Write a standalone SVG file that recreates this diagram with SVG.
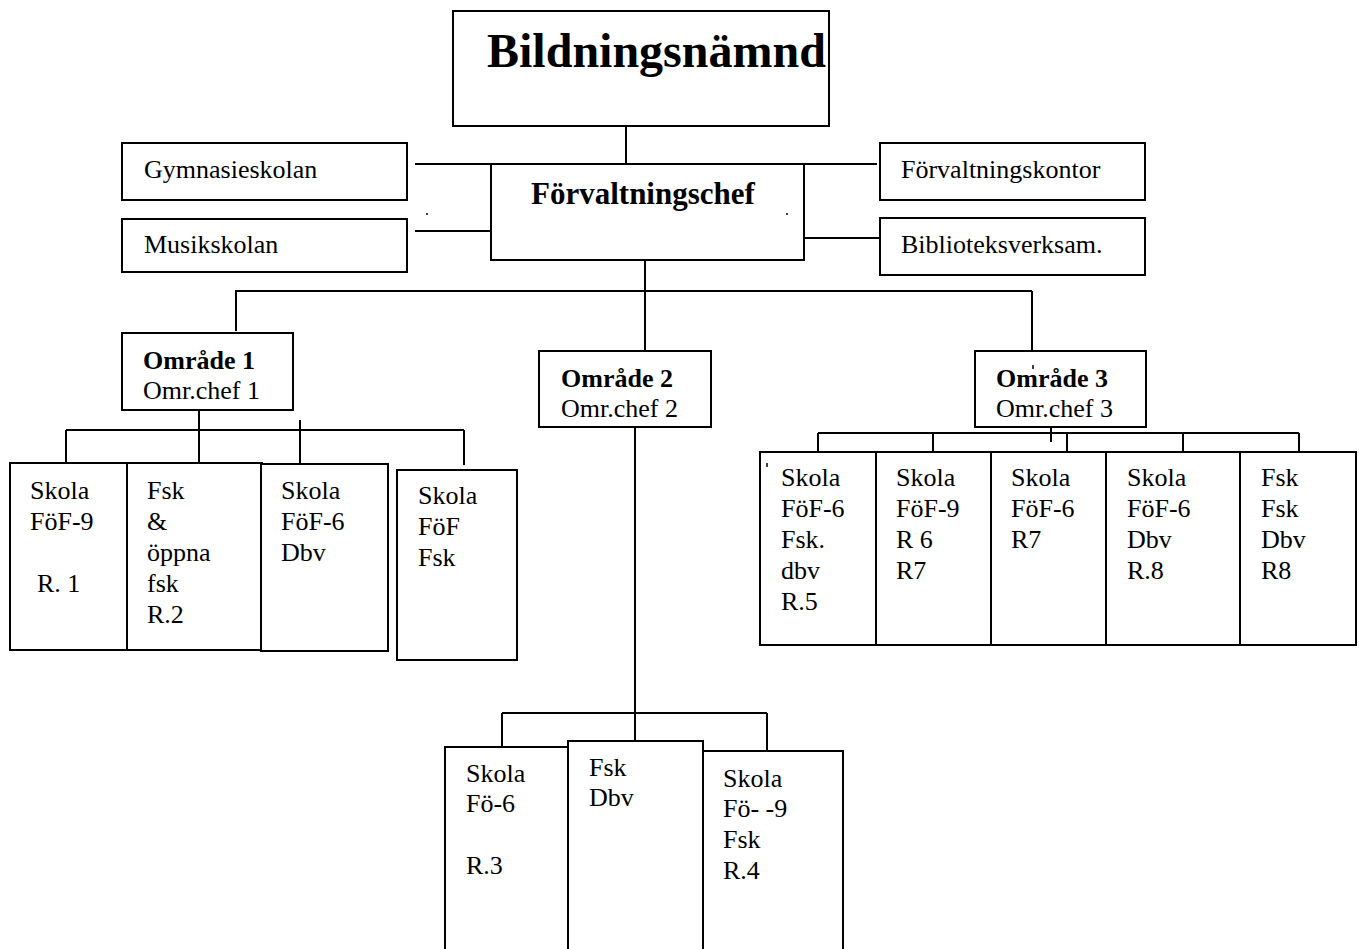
<svg xmlns="http://www.w3.org/2000/svg" width="1359" height="949" viewBox="0 0 1359 949">
<style>
rect.b{fill:#fff;stroke:#000;stroke-width:2}
#connectors line{stroke:#000;stroke-width:2}
text{font-family:"Liberation Serif","Times New Roman",serif;font-size:26px;fill:#000}
.bold{font-weight:bold}
.title{font-size:48px;font-weight:bold}
.chef{font-size:31px;font-weight:bold}
</style>
<rect width="1359" height="949" fill="#fff"/>
<g id="connectors">
<line x1="626" y1="126" x2="626" y2="164"/>
<line x1="415" y1="164" x2="491" y2="164"/>
<line x1="804" y1="164" x2="877" y2="164"/>
<line x1="415" y1="231" x2="491" y2="231"/>
<line x1="804" y1="238" x2="880" y2="238"/>
<line x1="645" y1="260" x2="645" y2="351"/>
<line x1="235" y1="291" x2="1032" y2="291"/>
<line x1="236" y1="291" x2="236" y2="331"/>
<line x1="1032" y1="291" x2="1032" y2="351"/>
<line x1="199" y1="410" x2="199" y2="463"/>
<line x1="66" y1="430" x2="464" y2="430"/>
<line x1="66" y1="430" x2="66" y2="463"/>
<line x1="300" y1="420" x2="300" y2="464"/>
<line x1="464" y1="430" x2="464" y2="465"/>
<line x1="635" y1="427" x2="635" y2="741"/>
<line x1="502" y1="713" x2="767" y2="713"/>
<line x1="502" y1="713" x2="502" y2="747"/>
<line x1="767" y1="713" x2="767" y2="751"/>
<line x1="818" y1="433" x2="1299" y2="433"/>
<line x1="1051" y1="422" x2="1051" y2="442"/>
<line x1="818" y1="433" x2="818" y2="452"/>
<line x1="933" y1="433" x2="933" y2="452"/>
<line x1="1067" y1="433" x2="1067" y2="452"/>
<line x1="1183" y1="433" x2="1183" y2="452"/>
<line x1="1299" y1="433" x2="1299" y2="452"/>
</g>
<g id="bildningsnamnd"><rect class="b" x="453" y="11" width="376" height="115"/><text class="title" x="487" y="67">Bildningsnämnd</text></g>
<g id="forvaltningschef"><rect class="b" x="491" y="164" width="313" height="96"/><text class="chef" x="531" y="204">Förvaltningschef</text></g>
<g id="gymnasieskolan"><rect class="b" x="122" y="143" width="285" height="57"/><text x="144" y="178">Gymnasieskolan</text></g>
<g id="musikskolan"><rect class="b" x="122" y="219" width="285" height="53"/><text x="144" y="253">Musikskolan</text></g>
<g id="forvaltningskontor"><rect class="b" x="880" y="143" width="265" height="57"/><text x="901" y="178">Förvaltningskontor</text></g>
<g id="biblioteksverksam"><rect class="b" x="880" y="218" width="265" height="57"/><text x="901" y="253">Biblioteksverksam.</text></g>
<g id="dots"><circle cx="427" cy="214" r="1" fill="#000"/><circle cx="787" cy="214" r="1" fill="#000"/></g>
<g id="omrade1"><rect class="b" x="122" y="333" width="171" height="77"/><text class="bold" x="143" y="369">Område 1</text><text x="143" y="399">Omr.chef 1</text></g>
<g id="omrade2"><rect class="b" x="539" y="351" width="172" height="76"/><text class="bold" x="561" y="387">Område 2</text><text x="561" y="417">Omr.chef 2</text></g>
<g id="omrade3"><rect class="b" x="975" y="351" width="171" height="76"/><text class="bold" x="996" y="387">Område 3</text><text x="996" y="417">Omr.chef 3</text><line x1="1033" y1="365" x2="1033" y2="369" stroke="#000" stroke-width="1.5"/></g>
<g id="r1"><rect class="b" x="10" y="463" width="117" height="187"/><text x="30" y="499">Skola</text><text x="30" y="530">FöF-9</text><text x="37" y="592">R. 1</text></g>
<g id="r2"><rect class="b" x="127" y="463" width="135" height="187"/><text x="147" y="499">Fsk</text><text x="147" y="530">&amp;</text><text x="147" y="561">öppna</text><text x="147" y="592">fsk</text><text x="147" y="623">R.2</text></g>
<g id="r-dbv1"><rect class="b" x="261" y="464" width="127" height="187"/><text x="281" y="499">Skola</text><text x="281" y="530">FöF-6</text><text x="281" y="561">Dbv</text></g>
<g id="r-fof"><rect class="b" x="397" y="470" width="120" height="190"/><text x="418" y="504">Skola</text><text x="418" y="535">FöF</text><text x="418" y="566">Fsk</text></g>
<g id="r3"><rect class="b" x="445" y="747" width="123" height="215"/><text x="466" y="782">Skola</text><text x="466" y="812">Fö-6</text><text x="466" y="874">R.3</text></g>
<g id="r4"><rect class="b" x="703" y="751" width="140" height="215"/><text x="723" y="787">Skola</text><text x="723" y="817">Fö- -9</text><text x="723" y="848">Fsk</text><text x="723" y="879">R.4</text></g>
<g id="fsk-dbv2"><rect class="b" x="568" y="741" width="135" height="225"/><text x="589" y="776">Fsk</text><text x="589" y="806">Dbv</text></g>
<g id="r5"><rect class="b" x="760" y="452" width="116" height="193"/><text x="781" y="486">Skola</text><text x="781" y="517">FöF-6</text><text x="781" y="548">Fsk.</text><text x="781" y="579">dbv</text><text x="781" y="610">R.5</text><line x1="767" y1="463" x2="767" y2="467" stroke="#000" stroke-width="1.5"/></g>
<g id="r6"><rect class="b" x="876" y="452" width="115" height="193"/><text x="896" y="486">Skola</text><text x="896" y="517">FöF-9</text><text x="896" y="548">R 6</text><text x="896" y="579">R7</text></g>
<g id="r7"><rect class="b" x="991" y="452" width="115" height="193"/><text x="1011" y="486">Skola</text><text x="1011" y="517">FöF-6</text><text x="1011" y="548">R7</text></g>
<g id="r8"><rect class="b" x="1106" y="452" width="134" height="193"/><text x="1127" y="486">Skola</text><text x="1127" y="517">FöF-6</text><text x="1127" y="548">Dbv</text><text x="1127" y="579">R.8</text></g>
<g id="r8b"><rect class="b" x="1240" y="452" width="116" height="193"/><text x="1261" y="486">Fsk</text><text x="1261" y="517">Fsk</text><text x="1261" y="548">Dbv</text><text x="1261" y="579">R8</text></g>
</svg>
